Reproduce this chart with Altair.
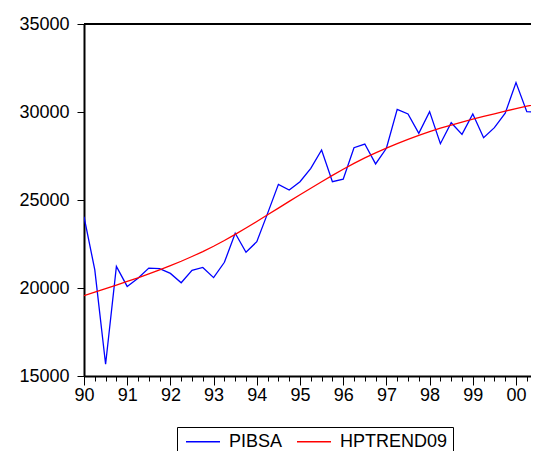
import altair as alt
import pandas as pd

# Quarterly observations 1990Q1 .. 2000Q3
pibsa = [
    24050, 21030, 15670, 21230,
    20090, 20560, 21130, 21100,
    20830, 20300, 21000, 21170,
    20590, 21460, 23110, 22030,
    22630, 24240, 25890, 25570,
    26040, 26800, 27840, 26040,
    26180, 27970, 28180, 27050,
    27940, 30150, 29890, 28790,
    30020, 28200, 29390, 28730,
    29890, 28540, 29110, 29930,
    31670, 30020, 29980,
]
hptrend09 = [
    19560, 19760, 19960, 20160,
    20370, 20580, 20800, 21030,
    21270, 21520, 21790, 22070,
    22370, 22700, 23050, 23410,
    23780, 24160, 24540, 24920,
    25300, 25670, 26040, 26400,
    26750, 27080, 27390, 27680,
    27950, 28200, 28440, 28670,
    28890, 29080, 29260, 29430,
    29590, 29750, 29900, 30050,
    30190, 30330, 30460,
]
series_names = ["PIBSA", "HPTREND09"]
series_colors = ["#0000FF", "#FF0000"]
year_labels = ["90", "91", "92", "93", "94", "95", "96", "97", "98", "99", "00"]
y_ticks = [15000, 20000, 25000, 30000, 35000]

n = len(pibsa)
rows = []
for name, vals in zip(series_names, [pibsa, hptrend09]):
    for i, v in enumerate(vals):
        rows.append({"q": i, "value": v, "series": name})
df = pd.DataFrame(rows)

W, H = 447, 352
PX_PER_Q = 10.8
FONT = "Liberation Sans"

label_arr = "[" + ",".join("'" + s + "'" for s in year_labels) + "]"
label_expr = "datum.value % 4 == 0 ? " + label_arr + "[datum.value / 4] : ''"

x = alt.X(
    "q:Q",
    scale=alt.Scale(domain=[0, W / PX_PER_Q], nice=False, zero=False),
    axis=alt.Axis(
        title=None,
        values=list(range(42)),
        labelExpr=label_expr,
        grid=False,
        domainColor="black",
        domainWidth=2,
        tickColor="black",
        tickWidth=1,
        tickSize={"condition": {"test": "datum.value % 4 == 0", "value": 9}, "value": 5},
        labelFont=FONT,
        labelFontSize=18,
        labelColor="black",
        labelPadding=1,
        labelFlush=False,
        labelOverlap=False,
        labelBaseline="top",
    ),
)
y = alt.Y(
    "value:Q",
    scale=alt.Scale(domain=[15000, 35000], nice=False, zero=False),
    axis=alt.Axis(
        title=None,
        values=y_ticks,
        format="d",
        grid=False,
        domainColor="black",
        domainWidth=2,
        tickColor="black",
        tickWidth=1,
        tickSize=7,
        labelFont=FONT,
        labelFontSize=18,
        labelColor="black",
        labelPadding=8,
        labelBaseline="middle",
    ),
)

lines = alt.Chart(df).mark_line(strokeWidth=1.3, clip=True).encode(
    x=x,
    y=y,
    color=alt.Color(
        "series:N",
        scale=alt.Scale(domain=series_names, range=series_colors),
        sort=series_names,
        legend=alt.Legend(
            title=None,
            orient="none",
            direction="horizontal",
            legendX=93,
            legendY=403,
            strokeColor="black",
            padding=5,
            symbolType="M-2,0H2",
            symbolSize=289,
            symbolOffset=11.5,
            symbolStrokeWidth=1.3,
            labelFont=FONT,
            labelFontSize=18,
            labelColor="black",
            labelOffset=16.5,
            columnPadding=10,
        ),
    ),
    order=alt.Order("q:Q"),
)

top_border = alt.Chart(df).mark_rule(color="black", strokeWidth=2).encode(
    x=alt.value(0), x2=alt.value(W), y=alt.value(0)
)

chart = alt.layer(lines, top_border).properties(
    width=W,
    height=H,
    background="white",
    autosize=alt.AutoSizeParams(type="none"),
    padding={"left": 76, "top": 16, "right": 0, "bottom": 75},
).configure_view(strokeWidth=0)

chart.save("out.html", embed_options={"renderer": "svg", "actions": False})
